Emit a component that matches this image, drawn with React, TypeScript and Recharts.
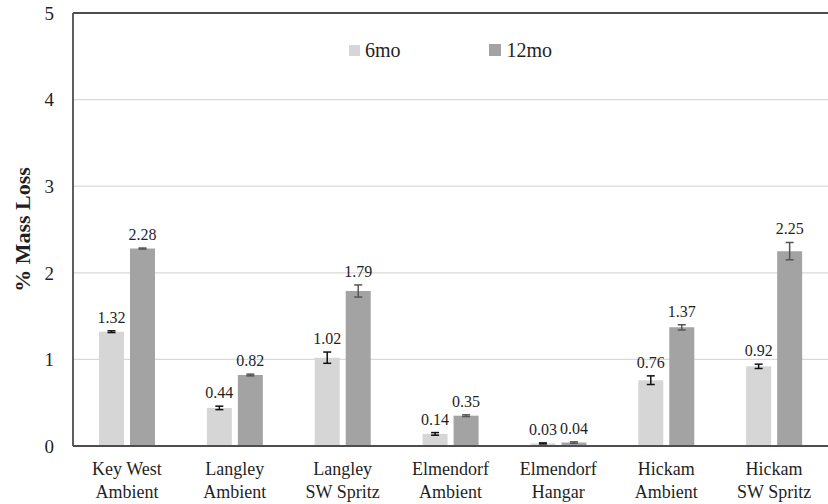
import React from 'react';
import {
  BarChart,
  Bar,
  XAxis,
  YAxis,
  CartesianGrid,
  ErrorBar,
  LabelList,
  ReferenceLine,
} from 'recharts';

const categories = [
  'Key West\nAmbient',
  'Langley\nAmbient',
  'Langley\nSW Spritz',
  'Elmendorf\nAmbient',
  'Elmendorf\nHangar',
  'Hickam\nAmbient',
  'Hickam\nSW Spritz',
];
const mo6 = [1.32, 0.44, 1.02, 0.14, 0.03, 0.76, 0.92];
const mo12 = [2.28, 0.82, 1.79, 0.35, 0.04, 1.37, 2.25];
const err6 = [0.01, 0.02, 0.065, 0.015, 0.006, 0.05, 0.025];
const err12 = [0.006, 0.01, 0.07, 0.01, 0.008, 0.03, 0.1];
const yTicks = [0, 1, 2, 3, 4, 5];
const seriesNames = ['6mo', '12mo'];

const data = categories.map((c, i) => ({
  cat: c,
  mo6: mo6[i],
  mo12: mo12[i],
  err6: err6[i],
  err12: err12[i],
}));

const FONT = '"Liberation Serif", "Times New Roman", serif';
const TEXT = '#1f1f1f';
const C6 = '#d6d6d6';
const C12 = '#a3a3a3';

const XTick = (props: any) => {
  const { x, y, payload } = props;
  const lines = String(payload.value).split('\n');
  return (
    <text x={x} y={y} textAnchor="middle" fill={TEXT} fontFamily={FONT} fontSize={18}>
      {lines.map((l, i) => (
        <tspan key={i} x={x} dy={i === 0 ? 29 : 23}>
          {l}
        </tspan>
      ))}
    </text>
  );
};

const makeLabel = (errs: number[]) => (props: any) => {
  const { x, y, width, height, value, index } = props;
  const pxPerUnit = value ? height / value : 0;
  const errPx = errs[index] * pxPerUnit;
  return (
    <text
      x={x + width / 2}
      y={y - errPx - 8}
      textAnchor="middle"
      fill={TEXT}
      fontFamily={FONT}
      fontSize={16}
    >
      {value.toFixed(2)}
    </text>
  );
};

export default function App() {
  return (
    <div style={{ position: 'absolute', left: 0, top: 0, width: 828, height: 504, background: '#fff', fontFamily: FONT }}>
      <BarChart
        width={828}
        height={504}
        data={data}
        margin={{ top: 13, right: 0, left: 0, bottom: 0 }}
        barSize={25}
        barGap={6}
      >
        <CartesianGrid vertical={false} stroke="#d9d9d9" strokeWidth={1.2} />
        <XAxis
          dataKey="cat"
          height={58}
          tickLine={false}
          tickSize={0}
          tickMargin={0}
          interval={0}
          axisLine={{ stroke: '#4d4d4d', strokeWidth: 1.8 }}
          tick={<XTick />}
        />
        <YAxis
          width={73}
          domain={[0, 5]}
          ticks={yTicks}
          tickLine={false}
          tickSize={0}
          tickMargin={19}
          axisLine={{ stroke: '#4d4d4d', strokeWidth: 1.8 }}
          tick={{ fill: TEXT, fontSize: 19, fontFamily: FONT }}
          label={{
            value: '% Mass Loss',
            angle: -90,
            position: 'insideLeft',
            offset: 22,
            style: { fill: TEXT, fontFamily: FONT, fontSize: 22, fontWeight: 'bold', textAnchor: 'middle' },
          }}
        />
        <ReferenceLine y={5} stroke="#4d4d4d" strokeWidth={1.8} ifOverflow="extendDomain" />
        <Bar dataKey="mo6" name={seriesNames[0]} fill={C6} isAnimationActive={false}>
          <ErrorBar dataKey="err6" width={4} stroke="#111" strokeWidth={1.5} direction="y" />
          <LabelList dataKey="mo6" content={makeLabel(err6)} />
        </Bar>
        <Bar dataKey="mo12" name={seriesNames[1]} fill={C12} isAnimationActive={false}>
          <ErrorBar dataKey="err12" width={4} stroke="#555" strokeWidth={1.5} direction="y" />
          <LabelList dataKey="mo12" content={makeLabel(err12)} />
        </Bar>
      </BarChart>
      <div
        style={{
          position: 'absolute',
          left: 349,
          top: 38,
          fontFamily: FONT,
          fontSize: 20,
          color: TEXT,
          display: 'flex',
          alignItems: 'center',
          lineHeight: '24px',
        }}
      >
        <span style={{ display: 'inline-block', width: 11, height: 11, background: C6 }} />
        <span style={{ marginLeft: 5 }}>{seriesNames[0]}</span>
        <span style={{ display: 'inline-block', width: 12, height: 12, background: C12, marginLeft: 88 }} />
        <span style={{ marginLeft: 6 }}>{seriesNames[1]}</span>
      </div>
    </div>
  );
}
